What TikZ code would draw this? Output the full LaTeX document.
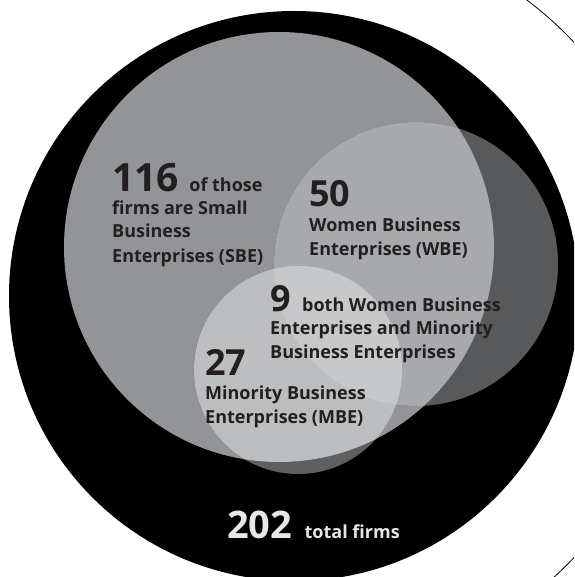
\documentclass[tikz,border=0pt]{standalone}
\usepackage{fontspec}
\setmainfont{Open Sans}
\definecolor{sbegray}{HTML}{929497}
\definecolor{wbeout}{HTML}{58595B}
\definecolor{wbein}{HTML}{A7A9AC}
\definecolor{mbein}{HTML}{BCBEC0}
\definecolor{mbewbe}{HTML}{C7C8CA}
\definecolor{mbeout}{HTML}{5E5F61}
\definecolor{totgray}{HTML}{E6E7E8}
\definecolor{inkblack}{HTML}{231F20}
\begin{document}
\begin{tikzpicture}[x=1pt, y=-1pt,
 		num/.style={inner sep=0pt, anchor=base west, text=inkblack, font=\fontsize{36}{36}\selectfont\bfseries},
 		lbl/.style={inner sep=0pt, anchor=base west, text=inkblack, font=\fontsize{18}{24}\selectfont\bfseries}]
 		\useasboundingbox (0,0) rectangle (574,577);
 		\clip (0,0) rectangle (574,577);
 		\draw[line width=0.8pt] (300,300) ++(-70:376) arc[start angle=-70, end angle=70, radius=376];
 		\fill[black] (294,296) circle[radius=285];
 		\fill[sbegray] (279,247) circle[radius=215];
 		\fill[wbeout] (416,264) circle[radius=142];
 		\fill[mbeout] (298,370) circle[radius=104];
 		\begin{scope}
 		\clip (279,247) circle[radius=215];
 		\fill[wbein] (416,264) circle[radius=142];
 		\fill[mbein] (298,370) circle[radius=104];
 		\clip (416,264) circle[radius=142];
 		\fill[mbewbe] (298,370) circle[radius=104];
 		\end{scope}
 		\node[num, font=\fontsize{39}{39}\selectfont\bfseries] (sbeNum) at (112,192) {116};
 		\node[lbl] (sbeOf) at ([xshift=10pt]sbeNum.base east) {of those};
 		\node[lbl] (sbeText) at (112,214) {\begin{tabular}[t]{@{}l@{}}firms are Small\\Business\\Enterprises (SBE)\end{tabular}};
 		\node[num] (wbeNum) at (309,206) {50};
 		\node[lbl] (wbeText) at (309,231) {\begin{tabular}[t]{@{}l@{}}Women Business\\Enterprises (WBE)\end{tabular}};
 		\node[num] (bothNum) at (270,311) {9};
 		\node[lbl] (bothOf) at ([xshift=11pt]bothNum.base east) {both Women Business};
 		\node[lbl] (bothText) at (270,334) {\begin{tabular}[t]{@{}l@{}}Enterprises and Minority\\Business Enterprises\end{tabular}};
 		\node[num] (mbeNum) at (205,375) {27};
 		\node[lbl] (mbeText) at (205,399) {\begin{tabular}[t]{@{}l@{}}Minority Business\\Enterprises (MBE)\end{tabular}};
 		\node[num, font=\fontsize{38}{38}\selectfont\bfseries, text=totgray] (totNum) at (227,538) {202};
 		\node[lbl, text=totgray] (totText) at ([xshift=12pt]totNum.base east) {total firms};
 		\end{tikzpicture}
\end{document}
